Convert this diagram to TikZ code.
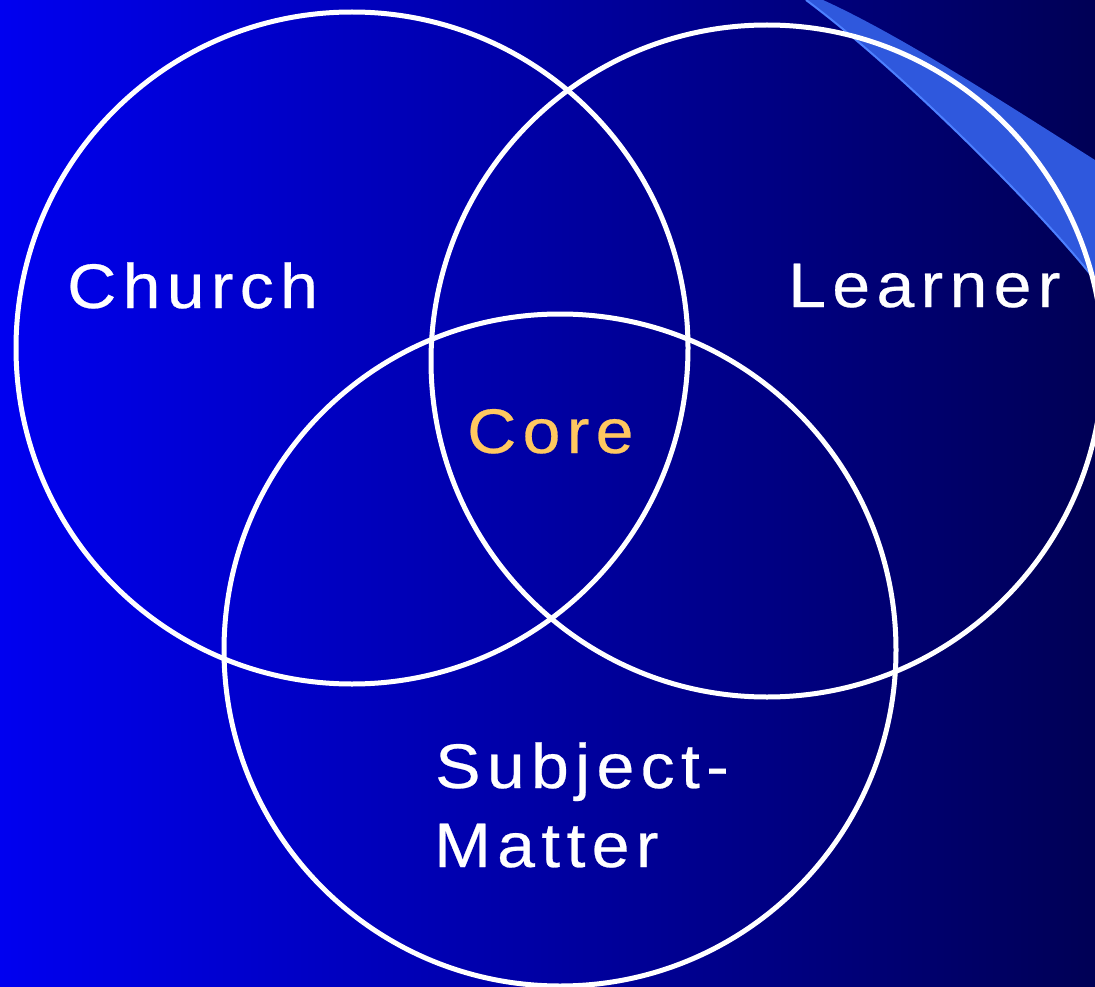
\documentclass[tikz,border=0pt]{standalone}
\usepackage{fontspec}
\setmainfont{Liberation Sans}[LetterSpace=10, FakeStretch=1.08, FakeBold=0.4]
\definecolor{bgleft}{HTML}{0000F0}
\definecolor{bgmid}{HTML}{0000BE}
\definecolor{bgright}{HTML}{000055}
\definecolor{swoosh}{HTML}{2F58DD}
\definecolor{swooshedge}{HTML}{4D80FF}
\definecolor{coretext}{HTML}{FFC860}
\tikzset{
  ring/.style={circle, draw=white, line width=5pt, minimum size=672pt, inner sep=0pt},
  label/.style={text=white, inner sep=0pt, anchor=base west, font=\fontsize{63}{76}\selectfont},
}
\begin{document}
\begin{tikzpicture}[x=1pt,y=-1pt]
\useasboundingbox (0,0) rectangle (1095,987);
\shade[left color=bgleft, middle color=bgmid, right color=bgright] (0,0) rectangle (1095,987);
% swoosh
\fill[swoosh] (806,0) -- (823,0) .. controls (900,35) and (1000,100) .. (1095,160)
  -- (1095,280) .. controls (1040,210) and (900,70) .. (806,0) -- cycle;
\draw[swooshedge, line width=2pt] (1095,280) .. controls (1040,210) and (900,70) .. (806,0);
% circles
\node[ring] (church) at (352,348) {};
\node[ring] (learner) at (767,361) {};
\node[ring] (subject) at (560,650) {};
% labels
\node[label] (tchurch) at (67,308) {Church};
\node[label] (tlearner) at (788,307) {Learner};
\node[label, text=coretext] (tcore) at (467,453) {Core};
\node[label] (tsubj) at (435,788) {Subject-};
\node[label] (tmatter) at (434,867) {Matter};
\end{tikzpicture}
\end{document}
